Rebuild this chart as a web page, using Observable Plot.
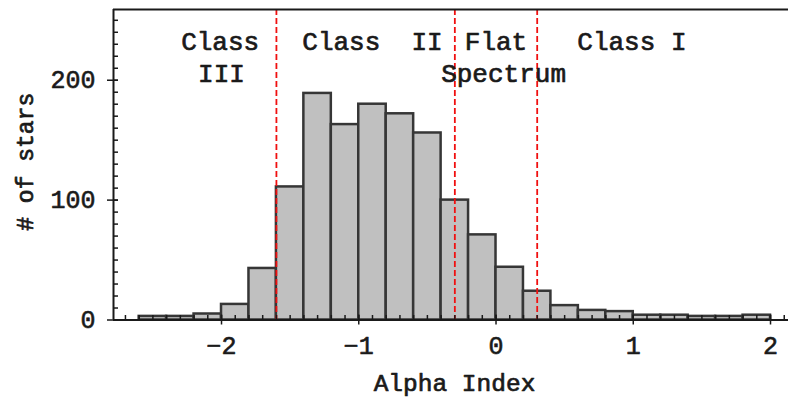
<!DOCTYPE html>
<html>
<head>
<meta charset="utf-8">
<script src="https://cdn.jsdelivr.net/npm/d3@7"></script>
<script src="https://cdn.jsdelivr.net/npm/@observablehq/plot@0.6"></script>
<style>
  html, body { margin: 0; padding: 0; background: #fff; }
  #chart svg { display: block; }
</style>
</head>
<body>
<div id="chart"></div>
<script>
// Histogram of spectral index (alpha) for the YSO sample, bins of 0.2
const binLow  = [-2.6, -2.4, -2.2, -2.0, -1.8, -1.6, -1.4, -1.2, -1.0, -0.8, -0.6, -0.4,
                 -0.2, 0.0, 0.2, 0.4, 0.6, 0.8, 1.0, 1.2, 1.4, 1.6, 1.8];
const binHigh = [-2.4, -2.2, -2.0, -1.8, -1.6, -1.4, -1.2, -1.0, -0.8, -0.6, -0.4, -0.2,
                 0.0, 0.2, 0.4, 0.6, 0.8, 1.0, 1.2, 1.4, 1.6, 1.8, 2.0];
const counts  = [3, 3, 5, 13, 43, 111, 189, 163, 180, 172, 156, 100,
                 71, 44, 24, 12, 8, 7, 4, 4, 3, 3, 4];

// Class boundaries in alpha
const classCuts = [-1.6, -0.3, 0.3];

// Class annotations (text, alpha position, count-axis baseline)
const classText = ["Class", "III", "Class  II", "Flat", "Spectrum", "Class I"];
const classX    = [-2.01, -2.0, -0.90, 0.0, 0.055, 0.99];
const classY    = [225.5, 198.7, 225.5, 225.5, 198.7, 225.5];

// Axis ticks
const xMajor = [-2, -1, 0, 1, 2];
const xMinor = d3.range(-27, 22).map(d => d / 10);
const yMajor = [0, 100, 200];
const yMinor = d3.range(0, 260, 10);

const xDomain = [-2.787, 2.131];
const yDomain = [0, 259];

const bins = binLow.map((lo, i) => ({lo, hi: binHigh[i], n: counts[i]}));
const notes = classText.map((t, i) => ({t, x: classX[i], y: classY[i]}));

const font = "'Liberation Mono', 'DejaVu Sans Mono', monospace";
const ink = "#1a1a1a";
// slightly heavier glyphs: outline each label in its own colour
const heavy = {fill: ink, stroke: ink, strokeWidth: 0.7};
const tickStyle = {text: null, stroke: ink, strokeWidth: 1.5};

const chart = Plot.plot({
  width: 788,
  height: 399,
  marginLeft: 113,
  marginRight: 0,
  marginTop: 9,
  marginBottom: 79.5,
  style: {fontFamily: font, color: ink, background: "#fff"},
  x: {domain: xDomain},
  y: {domain: yDomain},
  marks: [
    Plot.rectY(bins, {
      x1: "lo", x2: "hi", y: "n", inset: 0,
      fill: "#c0c0c0", stroke: "#363636", strokeWidth: 2.5
    }),
    Plot.ruleX(classCuts, {stroke: "#f01010", strokeWidth: 1.8, strokeDasharray: "6,3"}),
    // frame: bottom, top, left
    Plot.ruleY([yDomain[0], yDomain[1]], {stroke: ink, strokeWidth: 2}),
    Plot.ruleX([xDomain[0]], {stroke: ink, strokeWidth: 2}),
    // x axis: minor inward ticks, major ticks crossing the axis
    Plot.axisX(xMinor, {tickSize: -4.5, ...tickStyle}),
    Plot.axisX(xMajor, {tickSize: -5, ...tickStyle}),
    Plot.axisX(xMajor, {tickSize: 5, ...tickStyle}),
    Plot.text(xMajor, {
      x: d => d, y: 0, text: d3.format("d"), fontSize: 25, lineAnchor: "top", dy: 16.5,
      fill: ink, stroke: ink, strokeWidth: 0.6
    }),
    // y axis
    Plot.axisY(yMinor, {tickSize: -5, ...tickStyle}),
    Plot.axisY(yMajor, {tickSize: -5, ...tickStyle}),
    Plot.axisY(yMajor, {tickSize: 6, ...tickStyle}),
    Plot.text(yMajor, {
      x: xDomain[0], y: d => d, text: d3.format("d"), fontSize: 25, textAnchor: "end", dx: -18,
      fill: ink, stroke: ink, strokeWidth: 0.6
    }),
    // axis titles
    Plot.text(["Alpha Index"], {
      frameAnchor: "bottom", dx: 3.5, dy: 63, fontSize: 24.5, lineAnchor: "middle", ...heavy
    }),
    Plot.text(["# of stars"], {
      frameAnchor: "left", dx: -88, dy: -3, rotate: -90, fontSize: 23,
      textAnchor: "middle", lineAnchor: "middle", ...heavy
    }),
    // class annotations
    Plot.text(notes, {
      x: "x", y: "y", text: "t", fontSize: 26, lineAnchor: "bottom", textAnchor: "middle", ...heavy
    })
  ]
});

document.getElementById("chart").appendChild(chart);
</script>
</body>
</html>
